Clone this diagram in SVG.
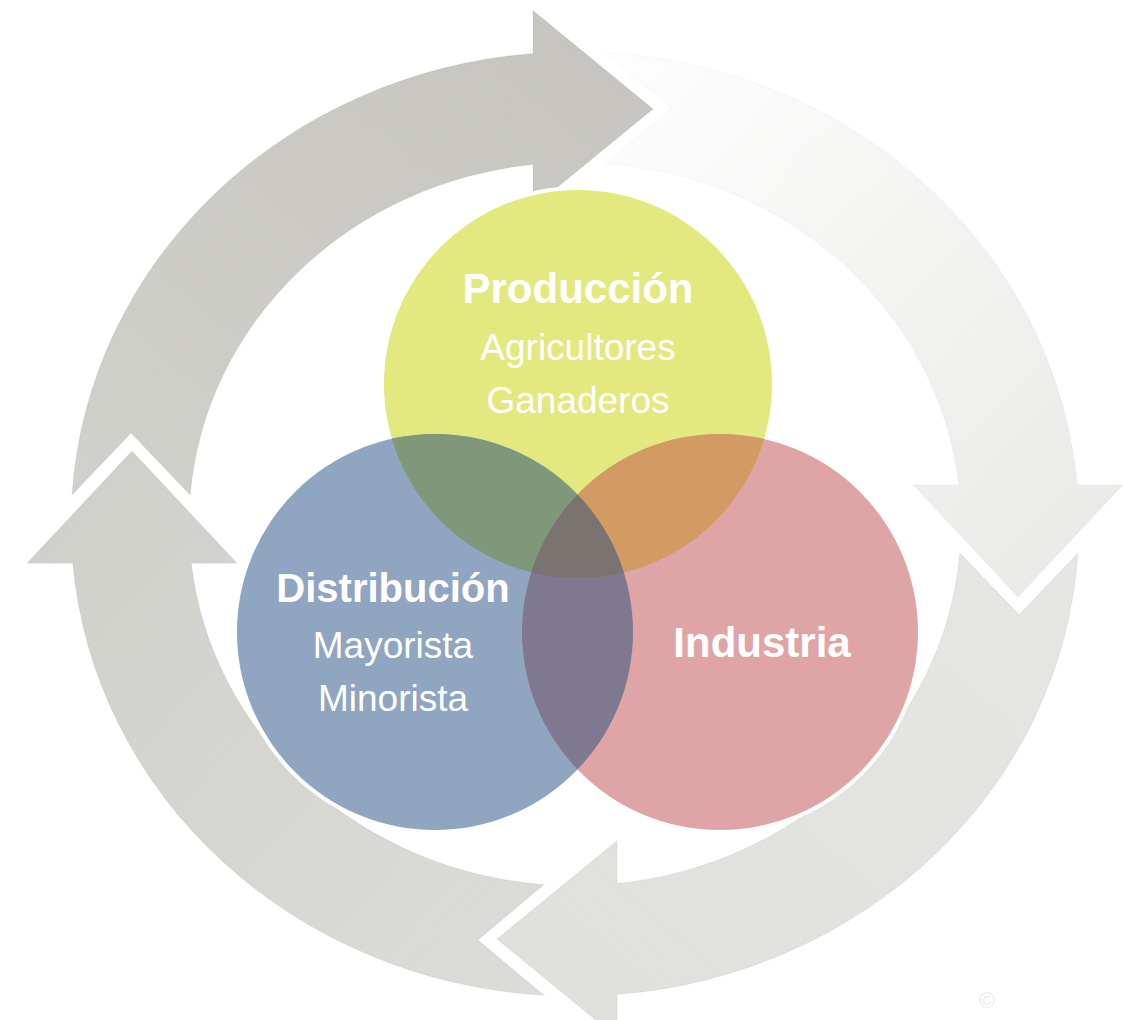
<svg xmlns="http://www.w3.org/2000/svg" width="1123" height="1020" viewBox="0 0 1123 1020">
<style>
.t{font-family:"Liberation Sans",Arial,sans-serif;fill:#ffffff;text-anchor:middle}
.b{font-weight:bold}
.arrow{stroke:#000;stroke-opacity:0.035;stroke-width:1.5}
</style>
<defs>
<path id="arr" d="M -503 -31 A 504 504 0 0 1 -42 -502.2 L -42 -548 L 78 -443 L -42 -338 L -42 -383.7 A 386 386 0 0 0 -384.8 -31 L -444 -97 Z"/>
<linearGradient id="gD" x1="0" y1="1" x2="1" y2="0"><stop offset="0" stop-color="#d1d1cc"/><stop offset="1" stop-color="#c5c4be"/></linearGradient>
<linearGradient id="gA" x1="0" y1="1" x2="1" y2="0"><stop offset="0" stop-color="#fefefe"/><stop offset="0.35" stop-color="#f6f6f5"/><stop offset="1" stop-color="#e8e8e5"/></linearGradient>
<linearGradient id="gB" x1="0" y1="1" x2="1" y2="0"><stop offset="0" stop-color="#e6e6e3"/><stop offset="1" stop-color="#dfdfdb"/></linearGradient>
<linearGradient id="gC" x1="0" y1="1" x2="1" y2="0"><stop offset="0" stop-color="#dcdcd8"/><stop offset="1" stop-color="#cfcfca"/></linearGradient>
<clipPath id="cpY"><circle cx="578" cy="384" r="194"/></clipPath>
<clipPath id="cpB"><circle cx="435" cy="632" r="198"/></clipPath>
</defs>
<rect width="1123" height="1020" fill="#ffffff"/>
<g id="connectors">
<use href="#arr" class="arrow" fill="url(#gD)" transform="translate(575,524) scale(1,0.937)"/>
<use href="#arr" fill="url(#gA)" stroke="#000" stroke-opacity="0.02" stroke-width="1.5" transform="translate(575,524) scale(1,0.937) rotate(90)"/>
<use href="#arr" class="arrow" fill="url(#gB)" transform="translate(575,524) scale(1,0.937) rotate(180)"/>
<use href="#arr" class="arrow" fill="url(#gC)" transform="translate(575,524) scale(1,0.937) rotate(270)"/>
</g>
<g id="halos" fill="#ffffff">
<circle cx="578" cy="384" r="198"/>
<circle cx="435" cy="632" r="202"/>
<circle cx="720" cy="632" r="202"/>
</g>
<g id="node-produccion">
<circle cx="578" cy="384" r="194" fill="#e3e87f"/>
<text class="t b" x="578" y="303" font-size="42">Producción</text>
<text class="t" x="578" y="360" font-size="37">Agricultores</text>
<text class="t" x="578" y="413" font-size="37">Ganaderos</text>
</g>
<g id="node-distribucion">
<circle cx="435" cy="632" r="198" fill="#8fa5c0"/>
<text class="t b" x="393" y="602" font-size="40">Distribución</text>
<text class="t" x="393" y="658" font-size="37">Mayorista</text>
<text class="t" x="393" y="711" font-size="37">Minorista</text>
</g>
<g id="node-industria">
<circle cx="720" cy="632" r="198" fill="#dfa5a6"/>
<text class="t b" x="762" y="657" font-size="42">Industria</text>
</g>
<g id="overlaps">
<circle cx="435" cy="632" r="198" fill="#7f9879" clip-path="url(#cpY)"/>
<circle cx="720" cy="632" r="198" fill="#d29b63" clip-path="url(#cpY)"/>
<circle cx="720" cy="632" r="198" fill="#7e7891" clip-path="url(#cpB)"/>
<g clip-path="url(#cpY)"><circle cx="720" cy="632" r="198" fill="#7a7370" clip-path="url(#cpB)"/></g>
</g>
<text x="987" y="1008" font-family="Liberation Sans, Arial, sans-serif" font-size="22" fill="#ececec" text-anchor="middle">©</text>
</svg>
